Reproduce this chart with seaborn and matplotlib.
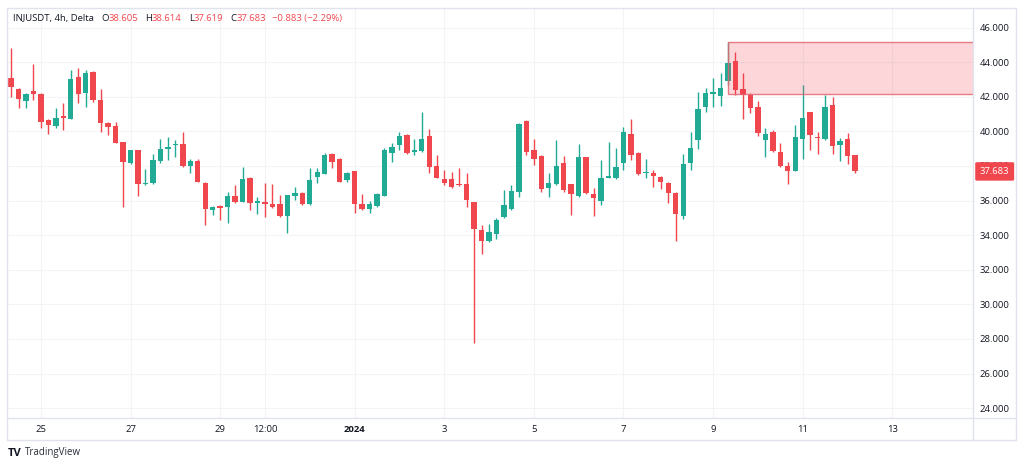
import numpy as np
import pandas as pd
import seaborn as sns
import matplotlib.pyplot as plt
from matplotlib.patches import Rectangle
from matplotlib.lines import Line2D

# INJUSDT 4h candles
opens = [43.08, 42.45, 41.75, 42.33, 42.16, 40.65, 40.30, 40.90, 40.71, 43.14,
         42.21, 43.43, 41.81, 40.48, 40.31, 39.38, 38.17, 38.92, 36.95, 37.00,
         38.28, 38.97, 39.20, 39.27, 37.99, 38.28, 37.00, 35.45, 35.68, 35.62,
         36.26, 35.91, 37.30, 35.85, 35.91, 35.80, 35.80, 35.10, 36.26, 36.43,
         35.80, 37.35, 37.53, 38.68, 38.40, 37.19, 37.70, 35.80, 35.50, 35.68,
         36.26, 38.74, 39.21, 39.78, 38.80, 38.86, 39.73, 37.99, 37.24, 37.24,
         36.90, 36.95, 35.91, 34.29, 33.66, 34.06, 35.04, 35.50, 36.49, 40.60,
         38.92, 38.57, 36.72, 36.95, 38.16, 36.95, 36.26, 38.51, 36.37, 35.97,
         37.30, 37.30, 38.17, 39.84, 38.74, 37.58, 37.58, 37.35, 37.00, 36.43,
         35.10, 38.17, 39.50, 41.40, 42.16, 42.04, 42.91, 44.06, 42.44, 42.10,
         41.40, 39.50, 39.96, 38.80, 37.99, 37.70, 39.55, 41.11, 39.67, 39.55,
         41.52, 39.21, 39.55, 38.605]
highs = [44.82, 42.50, 42.21, 43.89, 42.20, 40.70, 41.35, 41.64, 43.54, 43.66,
         43.54, 43.50, 42.45, 40.54, 40.54, 39.38, 38.95, 38.95, 37.80, 38.68,
         39.55, 39.70, 39.50, 39.96, 38.40, 38.40, 37.10, 35.68, 35.74, 36.49,
         36.87, 37.93, 37.35, 36.20, 37.00, 36.95, 36.30, 36.32, 36.78, 36.49,
         37.87, 37.87, 38.74, 38.74, 38.45, 37.65, 37.70, 36.40, 35.97, 36.43,
         39.03, 39.30, 39.96, 39.84, 39.55, 41.11, 40.13, 38.63, 37.76, 37.64,
         37.87, 37.58, 35.91, 34.58, 34.64, 34.98, 36.61, 36.90, 40.48, 40.65,
         39.55, 38.63, 37.58, 39.50, 38.57, 36.95, 39.26, 38.51, 36.72, 38.34,
         39.38, 39.03, 40.25, 40.71, 38.80, 38.40, 37.76, 37.41, 37.07, 36.49,
         38.68, 39.96, 42.27, 42.50, 43.08, 43.37, 45.16, 44.58, 43.37, 42.21,
         41.75, 40.19, 40.08, 39.32, 38.22, 40.36, 42.68, 41.11, 39.96, 42.10,
         41.98, 39.61, 39.90, 38.614]
lows = [41.98, 41.35, 41.35, 41.81, 40.20, 39.84, 40.19, 40.10, 40.71, 41.64,
        41.40, 41.70, 39.96, 39.78, 39.32, 35.61, 38.10, 36.26, 36.90, 36.95,
        38.17, 38.34, 38.50, 37.93, 37.58, 37.07, 34.58, 35.16, 34.87, 34.70,
        35.85, 35.91, 35.45, 35.20, 35.04, 35.56, 35.04, 34.12, 36.03, 35.74,
        35.74, 37.00, 37.53, 37.87, 37.07, 37.10, 35.27, 35.45, 35.27, 35.62,
        36.26, 38.22, 38.92, 38.68, 38.63, 38.80, 37.58, 37.30, 36.90, 36.72,
        36.84, 35.62, 27.76, 32.90, 33.60, 33.77, 34.98, 35.45, 36.20, 38.63,
        38.05, 36.49, 36.20, 36.90, 36.49, 35.16, 36.20, 36.37, 35.10, 35.74,
        37.30, 37.24, 37.76, 38.34, 37.47, 37.30, 36.78, 36.66, 35.85, 33.66,
        34.93, 37.76, 38.98, 41.11, 41.40, 41.46, 42.68, 42.10, 40.71, 41.06,
        39.73, 38.51, 38.80, 37.93, 36.95, 37.70, 38.40, 38.92, 38.68, 39.50,
        38.68, 38.28, 38.10, 37.619]
closes = [42.56, 41.87, 42.16, 42.16, 40.54, 40.36, 40.77, 40.80, 43.02, 42.16,
          43.37, 41.81, 40.48, 40.25, 39.32, 38.22, 38.92, 36.95, 36.98, 38.34,
          38.97, 39.10, 39.27, 37.99, 38.28, 37.07, 35.50, 35.60, 35.56, 36.26,
          35.91, 37.24, 35.85, 35.97, 35.80, 35.62, 35.10, 36.32, 36.43, 35.80,
          37.19, 37.64, 38.63, 38.22, 37.07, 37.60, 35.80, 35.50, 35.80, 36.37,
          38.92, 39.10, 39.73, 38.74, 38.92, 39.55, 37.93, 37.30, 37.00, 36.78,
          36.88, 36.03, 34.35, 33.66, 34.17, 34.87, 35.74, 36.55, 40.42, 38.80,
          38.40, 36.66, 37.00, 37.99, 36.61, 36.37, 38.51, 36.43, 36.14, 37.30,
          37.41, 37.93, 39.96, 38.63, 37.53, 37.64, 37.41, 37.07, 36.43, 35.21,
          38.10, 39.03, 41.29, 42.21, 42.27, 42.50, 43.95, 42.39, 42.10, 41.35,
          39.90, 39.84, 38.86, 37.99, 37.70, 39.67, 40.77, 39.78, 39.61, 41.40,
          39.15, 39.44, 38.566, 37.683]

first_bar = '2023-12-24 08:00'
tick_dates = ['2023-12-25', '2023-12-27', '2023-12-29', '2023-12-30', '2024-01-01',
              '2024-01-03', '2024-01-05', '2024-01-07', '2024-01-09', '2024-01-11',
              '2024-01-13']
tick_labels = ['25', '27', '29', '12:00', '2024', '3', '5', '7', '9', '11', '13']
price_ticks = [24, 26, 28, 30, 32, 34, 36, 38, 40, 42, 44, 46]

# supply zone drawn on the chart
zone_start = '2024-01-09 08:00'
zone_low = 42.14
zone_high = 45.16

symbol = 'INJUSDT, 4h, Delta'

up_col = '#22ab94'
down_col = '#f0474f'
text_col = '#131722'
frame_col = '#e0e3eb'

#%%
df = pd.DataFrame({'open': opens, 'high': highs, 'low': lows, 'close': closes})
df['time'] = pd.date_range(first_bar, periods=len(df), freq='4h')
step = pd.Timedelta('4h')
t0 = pd.Timestamp(first_bar)
df['x'] = (df['time'] - t0) / step
df['colour'] = np.where(df['close'] >= df['open'], up_col, down_col)
df['body_lo'] = df[['open', 'close']].min(axis=1)
df['body_h'] = (df['close'] - df['open']).abs().clip(lower=0.07)


def to_x(ts):
    return (pd.Timestamp(ts) - t0) / step


sns.set_theme(style='white')
plt.rcParams['font.family'] = ['Open Sans', 'DejaVu Sans']

W, H = 1024, 467
fig = plt.figure(figsize=(W / 100, H / 100), dpi=100, facecolor='white')


def fx(px):
    return px / W


def fy(py):
    return 1 - py / H


ax = fig.add_axes([fx(7), fy(418), fx(973) - fx(7), fy(8) - fy(418)])
ax.set_facecolor('white')

# candles
ax.vlines(df['x'], df['low'], df['high'], colors=df['colour'], lw=1, zorder=2)
ax.bar(df['x'], df['body_h'], bottom=df['body_lo'], width=0.72,
       color=df['colour'], lw=0, zorder=3)

# zone box
zone = Rectangle((to_x(zone_start), zone_low), 300, zone_high - zone_low,
                 facecolor=(0.949, 0.212, 0.271, 0.2),
                 edgecolor=(0.898, 0.40, 0.45, 0.85), lw=1, zorder=4)
ax.add_patch(zone)

ax.set_xlim(-0.54, 128.8)
ax.set_ylim(23.43, 47.13)

ax.set_xticks([to_x(d) for d in tick_dates])
ax.set_xticklabels(tick_labels)
for lab, txt in zip(ax.get_xticklabels(), tick_labels):
    if txt == '2024':
        lab.set_fontweight('bold')
ax.set_yticks(price_ticks)
ax.set_yticklabels([f'{p:.3f}' for p in price_ticks])
ax.yaxis.tick_right()
ax.tick_params(axis='x', length=0, pad=5, labelsize=6.8, labelcolor=text_col)
ax.tick_params(axis='y', length=0, pad=5, labelsize=6.8, labelcolor=text_col)
ax.grid(True, color='#f3f4f7', lw=0.8, zorder=0)
for s in ax.spines.values():
    s.set_visible(False)

# last price tag
last = df['close'].iloc[-1]
ax.annotate(f'{last:.3f}', xy=(1, last), xycoords=('axes fraction', 'data'),
            xytext=(5, 0), textcoords='offset points', ha='left', va='center',
            color='white', fontsize=6.8, zorder=10, annotation_clip=False,
            bbox=dict(boxstyle='round,pad=0.5,rounding_size=0.15', fc=down_col, ec='none'))

# chart frame
for (x0, y0, x1, y1) in [(7, 8, 1016, 8), (7, 440, 1016, 440), (7, 8, 7, 440),
                         (1016, 8, 1016, 440), (7, 418, 1016, 418), (973, 8, 973, 440)]:
    fig.add_artist(Line2D([fx(x0), fx(x1)], [fy(y0), fy(y1)], color=frame_col, lw=1))

# legend line at the top
o, h, l, c = df.iloc[-1][['open', 'high', 'low', 'close']]
chg = c - df['close'].iloc[-2]
pct = chg / df['close'].iloc[-2] * 100
parts = [(symbol, text_col, 0), ('O', text_col, 7), (f'{o:.3f}', down_col, 0),
         ('H', text_col, 7), (f'{h:.3f}', down_col, 0),
         ('L', text_col, 7), (f'{l:.3f}', down_col, 0),
         ('C', text_col, 7), (f'{c:.3f}', down_col, 0),
         (f'{chg:+.3f} ({pct:+.2f}%)'.replace('-', '\u2212'), down_col, 6)]
renderer = fig.canvas.get_renderer()
xpos = 13
for txt, col, gap in parts:
    t = fig.text(fx(xpos + gap), fy(21), txt, fontsize=6.8, color=col, va='baseline')
    xpos = t.get_window_extent(renderer).x1

# TradingView mark
fig.text(fx(8), fy(453), 'TV', fontsize=8, fontweight='bold', color='#131722', va='center')
fig.text(fx(25), fy(453), 'TradingView', fontsize=7, color='#2a2e39', va='center')

fig.savefig('out.png', dpi=100, facecolor='white')
